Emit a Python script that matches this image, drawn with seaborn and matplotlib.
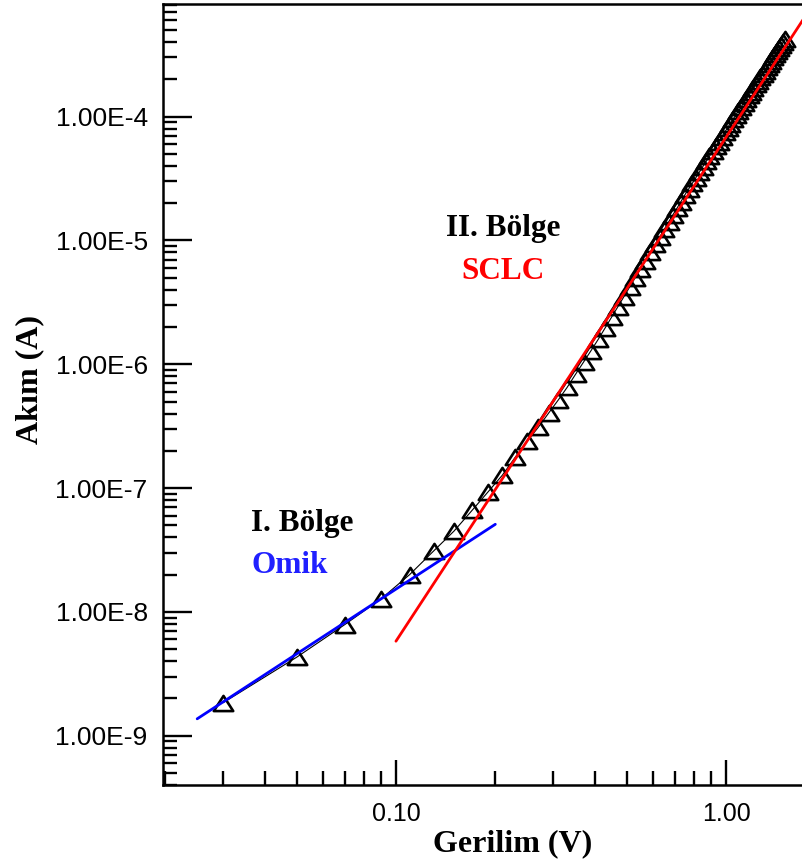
import numpy as np
import seaborn as sns
import matplotlib.pyplot as plt
from matplotlib.path import Path
from matplotlib.ticker import LogLocator, FuncFormatter, NullFormatter

# Measured I-V data (log-log)
voltage = [0.03, 0.05, 0.07, 0.09, 0.11, 0.13, 0.15, 0.17, 0.19, 0.21,
           0.23, 0.25, 0.27, 0.29, 0.31, 0.33, 0.35, 0.37, 0.39, 0.41,
           0.43, 0.45, 0.47, 0.49, 0.51, 0.53, 0.55, 0.57, 0.59, 0.61,
           0.63, 0.65, 0.67, 0.69, 0.71, 0.73, 0.75, 0.77, 0.79, 0.81,
           0.83, 0.85, 0.87, 0.89, 0.91, 0.93, 0.95, 0.97, 0.99, 1.01,
           1.03, 1.05, 1.07, 1.09, 1.11, 1.13, 1.15, 1.17, 1.19, 1.21,
           1.23, 1.25, 1.27, 1.29, 1.31, 1.33, 1.35, 1.37, 1.39, 1.41,
           1.43, 1.45, 1.47, 1.49, 1.51]
current = [1.85e-9, 4.3e-9, 7.9e-9, 1.27e-8, 2.0e-8, 3.1e-8, 4.5e-8, 6.6e-8, 9.3e-8, 1.27e-7,
           1.78e-7, 2.40e-7, 3.10e-7, 4.03e-7, 5.13e-7, 6.5e-7, 8.3e-7, 1.04e-6, 1.29e-6, 1.59e-6,
           1.96e-6, 2.40e-6, 2.91e-6, 3.50e-6, 4.19e-6, 4.97e-6, 5.86e-6, 6.87e-6, 8.02e-6, 9.29e-6,
           1.07e-5, 1.23e-5, 1.41e-5, 1.61e-5, 1.82e-5, 2.06e-5, 2.33e-5, 2.60e-5, 2.89e-5, 3.21e-5,
           3.56e-5, 3.94e-5, 4.34e-5, 4.78e-5, 5.24e-5, 5.74e-5, 6.28e-5, 6.86e-5, 7.46e-5, 8.11e-5,
           8.78e-5, 9.50e-5, 1.03e-4, 1.11e-4, 1.19e-4, 1.29e-4, 1.38e-4, 1.48e-4, 1.59e-4, 1.70e-4,
           1.82e-4, 1.94e-4, 2.07e-4, 2.21e-4, 2.35e-4, 2.51e-4, 2.66e-4, 2.83e-4, 3.00e-4, 3.18e-4,
           3.37e-4, 3.57e-4, 3.78e-4, 3.99e-4, 4.22e-4]

# fitted lines: region I (ohmic) and region II (SCLC)
ohmic_v = [0.025, 0.20]
ohmic_i = [1.37e-9, 5.1e-8]
sclc_v = [0.10, 1.71]
sclc_i = [5.8e-9, 6.05e-4]

x_ticks = [0.1, 1.0]
y_ticks = [1e-9, 1e-8, 1e-7, 1e-6, 1e-5, 1e-4]

sns.set_style('ticks')
plt.rcParams['font.family'] = ['Liberation Sans', 'DejaVu Sans']
plt.rcParams['text.color'] = 'black'
plt.rcParams['axes.labelcolor'] = 'black'
plt.rcParams['xtick.color'] = 'black'
plt.rcParams['ytick.color'] = 'black'

fig = plt.figure(figsize=(8.03, 8.66), dpi=100)
ax = fig.add_axes([0.203, 0.0935, 0.797, 0.9018])

# wide open triangle marker
tri = Path([(-1, -0.78), (1, -0.78), (0, 0.78), (-1, -0.78)], closed=True)

sns.lineplot(x=voltage, y=current, ax=ax, color='black', lw=0.8,
             marker=tri, markersize=14, markerfacecolor='none',
             markeredgecolor='black', markeredgewidth=1.9)
sns.lineplot(x=ohmic_v, y=ohmic_i, ax=ax, color='#0000ff', lw=2.0)
sns.lineplot(x=sclc_v, y=sclc_i, ax=ax, color='#ff0000', lw=2.0)

ax.set_xscale('log')
ax.set_yscale('log')
ax.set_xlim(0.0197, 1.71)
ax.set_ylim(4.0e-10, 8.1e-4)

ax.set_xticks(x_ticks)
ax.set_yticks(y_ticks)
ax.xaxis.set_major_formatter(FuncFormatter(lambda v, p: '{:.2f}'.format(v)))
ax.yaxis.set_major_formatter(FuncFormatter(
    lambda v, p: '{:.2E}'.format(v).replace('E-0', 'E-')))
ax.xaxis.set_minor_locator(LogLocator(base=10, subs=np.arange(2, 10), numticks=20))
ax.yaxis.set_minor_locator(LogLocator(base=10, subs=np.arange(2, 10), numticks=20))
ax.xaxis.set_minor_formatter(NullFormatter())
ax.yaxis.set_minor_formatter(NullFormatter())

ax.tick_params(which='both', bottom=True, left=True, top=False, right=False)
ax.tick_params(which='both', direction='in', width=1.7, color='black',
               labelcolor='black')
ax.tick_params(axis='x', which='major', length=18, pad=12, labelsize=18)
ax.tick_params(axis='y', which='major', length=21, pad=11, labelsize=19)
ax.tick_params(which='minor', length=10)

for side in ['left', 'bottom', 'top']:
    ax.spines[side].set_color('black')
    ax.spines[side].set_linewidth(1.8)
ax.spines['right'].set_visible(False)

ax.set_xlabel('Gerilim (V)', fontfamily='Liberation Serif', fontweight='bold',
              fontsize=23, color='black')
ax.set_ylabel('Akım (A)', fontfamily='Liberation Serif', fontweight='bold',
              fontsize=23, color='black')
ax.xaxis.set_label_coords(0.547, -0.056)
ax.yaxis.set_label_coords(-0.185, 0.519)

serif = dict(fontfamily='Liberation Serif', fontweight='bold', fontsize=22.5,
             transform=ax.transAxes, va='baseline')
ax.text(0.531, 0.703, 'II. Bölge', color='black', ha='center', **serif)
ax.text(0.531, 0.648, 'SCLC', color='#ff0000', ha='center', **serif)
ax.text(0.1375, 0.325, 'I. Bölge', color='black', ha='left', **serif)
ax.text(0.1375, 0.2714, 'Omik', color='#2020ff', ha='left', **serif)

fig.savefig('out.png', dpi=100)
